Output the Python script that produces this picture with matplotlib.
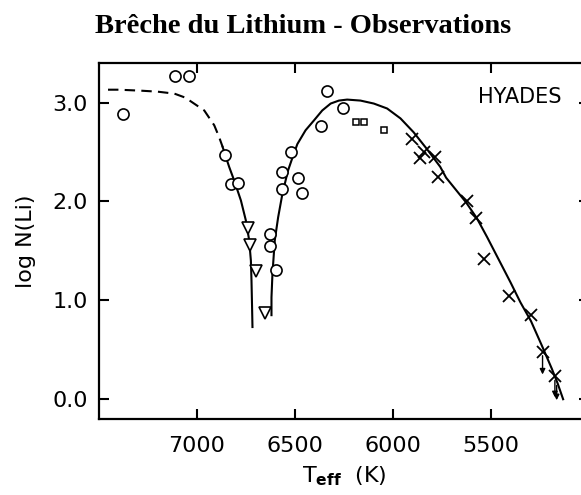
import matplotlib
matplotlib.use("Agg")
import matplotlib.pyplot as plt

# --- data (Teff in K, log N(Li)) ---
circle_teff = [7376, 7112, 7039, 6856, 6824, 6793, 6627, 6627, 6598, 6564, 6564,
               6522, 6483, 6462, 6369, 6335, 6254]
circle_li = [2.88, 3.27, 3.27, 2.47, 2.18, 2.19, 1.67, 1.55, 1.31, 2.30, 2.13,
             2.50, 2.24, 2.09, 2.76, 3.12, 2.94]

square_teff = [6190, 6149, 6045]
square_li = [2.80, 2.80, 2.72]

tri_teff = [6741, 6729, 6700, 6653]
tri_li = [1.73, 1.56, 1.30, 0.87]

cross_teff = [5903, 5844, 5864, 5784, 5768, 5622, 5577, 5535, 5407, 5296, 5237, 5174]
cross_li = [2.63, 2.50, 2.44, 2.45, 2.25, 2.00, 1.83, 1.42, 1.04, 0.85, 0.48, 0.23]

# upper limits (arrows pointing down)
limit_teff = [5237, 5174, 5165]
limit_top = [0.44, 0.19, 0.14]
limit_bot = [0.25, 0.02, -0.01]

# dashed extrapolation on the hot side
dash_teff = [7454, 7400, 7285, 7200, 7115, 7060, 7030, 6963, 6912, 6887, 6869]
dash_li = [3.13, 3.13, 3.12, 3.11, 3.09, 3.05, 3.01, 2.92, 2.77, 2.65, 2.55]

# left (hot) wall of the dip
left_teff = [6869, 6856, 6836, 6810, 6776, 6751, 6734, 6725, 6722, 6719, 6717]
left_li = [2.55, 2.47, 2.35, 2.21, 2.01, 1.81, 1.61, 1.40, 1.20, 0.93, 0.73]

# right (cool) side: from the dip up over the peak and down the G-dwarf tail
right_teff = [6620, 6620, 6615, 6603, 6586, 6564, 6536, 6510, 6488, 6446, 6403,
              6361, 6318, 6276, 6234, 6166, 6098, 6030, 5962, 5895, 5827, 5759,
              5729, 5680, 5627, 5572, 5520, 5460, 5400, 5350, 5296, 5240, 5190,
              5160, 5132]
right_li = [0.85, 1.03, 1.27, 1.61, 1.84, 2.08, 2.31, 2.46, 2.58, 2.72, 2.82,
            2.92, 2.99, 3.02, 3.03, 3.02, 2.99, 2.94, 2.84, 2.70, 2.53, 2.35,
            2.24, 2.12, 1.99, 1.83, 1.64, 1.41, 1.18, 0.98, 0.79, 0.54, 0.31,
            0.16, 0.00]

x_ticks = [7000, 6500, 6000, 5500]
y_ticks = [0.0, 1.0, 2.0, 3.0]

fig = plt.figure(figsize=(5.81, 4.95), dpi=100)
ax = fig.add_axes([99 / 581, 1 - 419 / 495, 490 / 581, 356 / 495])

ax.plot(dash_teff, dash_li, color="black", lw=1.5, ls=(0, (5, 3)))
ax.plot(left_teff, left_li, color="black", lw=1.5)
ax.plot(right_teff, right_li, color="black", lw=1.5)

ax.plot(circle_teff, circle_li, "o", ms=8, mfc="white", mec="black", mew=1.2)
ax.plot(square_teff, square_li, "s", ms=4.5, mfc="white", mec="black", mew=1.1)
ax.plot(tri_teff, tri_li, "v", ms=8, mfc="white", mec="black", mew=1.2)
ax.plot(cross_teff, cross_li, "x", ms=8, color="black", mew=1.3)

for t, y0, y1 in zip(limit_teff, limit_top, limit_bot):
    ax.annotate("", xy=(t, y1), xytext=(t, y0),
                arrowprops=dict(arrowstyle="-|>", color="black", lw=1.0,
                                mutation_scale=8, shrinkA=0, shrinkB=0))

ax.set_xlim(7500, 5000)
ax.set_ylim(-0.2, 3.4)

ax.set_xticks(x_ticks)
ax.set_xticklabels([str(v) for v in x_ticks])
ax.set_yticks(y_ticks)
ax.set_yticklabels(["%.1f" % v for v in y_ticks])
ax.tick_params(direction="in", length=7.5, width=1.5, top=True, right=True,
               labelsize=16)
ax.tick_params(axis="x", pad=12)
ax.tick_params(axis="y", pad=8)

for s in ax.spines.values():
    s.set_linewidth(1.6)

ax.set_xlabel(r"T$_{\mathbf{eff}}$  (K)", fontsize=16, labelpad=6)
ax.set_ylabel("log N(Li)", fontsize=16, labelpad=12)

ax.text(5355, 3.06, "HYADES", fontsize=15, ha="center", va="center")

fig.text(0.5215, 1 - 33 / 495, "Brêche du Lithium - Observations", ha="center",
         va="baseline", fontsize=20.5, fontweight="bold", family="Liberation Serif")

fig.savefig("out.png", dpi=100)
